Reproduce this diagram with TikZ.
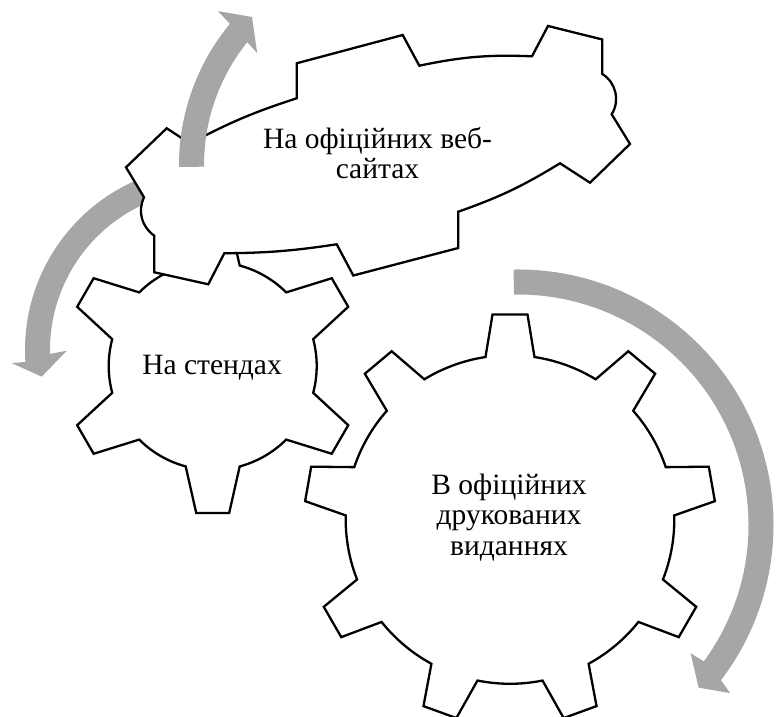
\documentclass[tikz,border=0pt]{standalone}
\usepackage{fontspec}
\setmainfont{Liberation Serif}
\definecolor{arrowgray}{RGB}{166,166,166}
\begin{document}
\begin{tikzpicture}[x=1pt,y=1pt,
  gearline/.style={draw=black, line width=2.3pt, fill=white, line join=miter},
  arrowfill/.style={fill=arrowgray},
  lbl/.style={inner sep=0pt, font=\fontsize{29.5}{30.7}\selectfont}]
\fill[white] (0,0) rectangle (779,717);
\useasboundingbox (0,0) rectangle (779,717);

% right circular arrow
\begin{scope}[shift={(518,192)}]
\fill[arrowfill] (91:255.5) arc[start angle=91, end angle=-37.4, radius=255.5]
  -- (-38.4:270.7) -- (-42:243) -- (-36.6:215) -- (-36.3:230.5)
  arc[start angle=-36.3, end angle=91, radius=230.5] -- cycle;
\end{scope}

% big gear (9 teeth)
\begin{scope}[shift={(510,197.5)}]
\draw[gearline] ({90-8.58}:164.3)
  \foreach \a in {90,130,...,410} {
    -- ({\a-8.58}:164.3) -- ({\a-4.88}:205.7) -- ({\a+4.88}:205.7) -- ({\a+8.58}:164.3)
    arc[start angle=\a+8.58, end angle=\a+40-8.58, radius=164.3]
  } -- cycle;
\end{scope}

% medium gear (6 teeth)
\begin{scope}[shift={(212.7,351)}]
\draw[gearline] ({30-15.05}:104)
  \foreach \a in {30,90,...,330} {
    -- ({\a-15.05}:104) -- ({\a-6.4}:147.9) -- ({\a+6.4}:147.9) -- ({\a+15.05}:104)
    arc[start angle=\a+15.05, end angle=\a+60-15.05, radius=104]
  } -- cycle;
\end{scope}

% left circular arrow
\begin{scope}[shift={(210,367)}]
\fill[arrowfill] (110:185) arc[start angle=110, end angle=183.7, radius=185]
  -- (183.8:198.7) -- (189:170.4) -- (180.3:143.3) -- (181.4:160)
  arc[start angle=181.4, end angle=110, radius=160] -- cycle;
\end{scope}

% distorted gear (web sites)
\draw[gearline] (126,549.7) -- (166.7,588.7) -- (190,573.5)
  to[bend left=5] (296.7,618.7) -- (296.7,653.7) -- (402.7,682) -- (419.3,651.3)
  to[bend left=7] (532,660.7) -- (548,691) -- (602.3,677.5) -- (602.3,643)
  to[bend left=45] (611.7,602.7) -- (630,573) -- (590,534.3) -- (560,553.7)
  to[bend left=6] (458.3,505.3) -- (458.3,469) -- (353.3,441.5) -- (336.7,472.7)
  to[bend left=4] (224.3,463.7) -- (208.3,432.7) -- (154.3,444.7) -- (154.3,481.3)
  to[bend left=40] (144,519.7) -- cycle;

% top circular arrow
\begin{scope}[shift={(400,552)}]
\fill[arrowfill] (180.5:221) arc[start angle=180.5, end angle=140.3, radius=221]
  -- (139.8:238.4) -- (135:209.3) -- (141.9:181.6) -- (141.2:196)
  arc[start angle=141.2, end angle=180.5, radius=196] -- cycle;
\end{scope}

% labels
\node[lbl, anchor=base] (web) at (377.5,568.7)
  {\begin{tabular}[t]{@{}c@{}}На офіційних веб-\\сайтах\end{tabular}};
\node[lbl, anchor=base] (stands) at (212,342) {На стендах};
\node[lbl, anchor=base] (print) at (509,222.7)
  {\begin{tabular}[t]{@{}c@{}}В офіційних\\друкованих\\виданнях\end{tabular}};
\end{tikzpicture}
\end{document}
